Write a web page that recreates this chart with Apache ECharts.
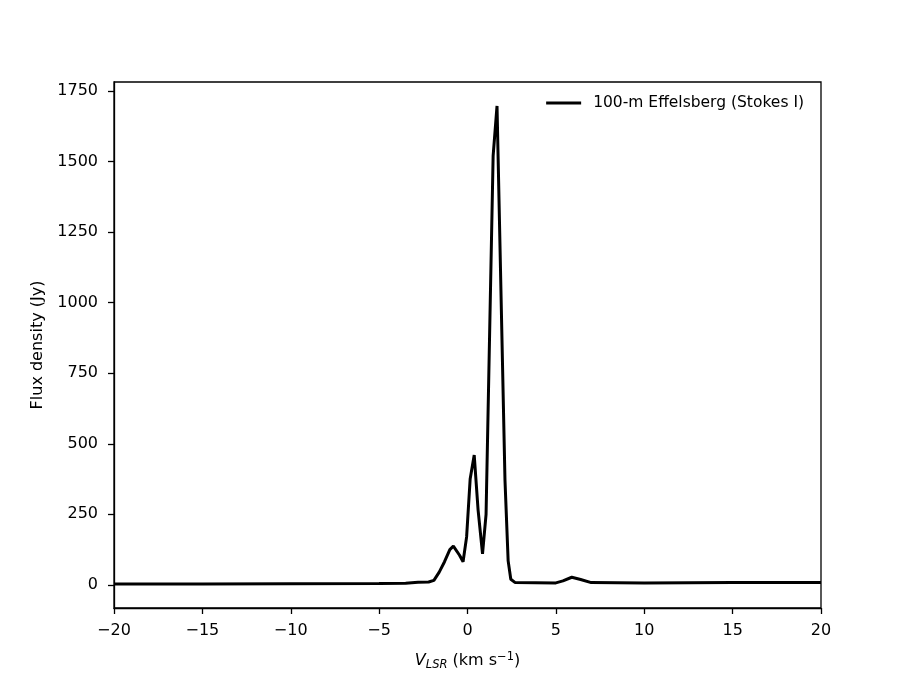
<!DOCTYPE html>
<html>
<head>
<meta charset="utf-8">
<script src="https://cdn.jsdelivr.net/npm/echarts@6/dist/echarts.min.js"></script>
<style>
  html, body { margin: 0; padding: 0; background: #fff; }
  #main { width: 913px; height: 685px; }
</style>
</head>
<body>
<div id="main"></div>
<script>
// spectrum (km/s, Jy)
var velocity = [-20, -15, -10, -5, -3.5, -2.8, -2.2, -1.9, -1.6, -1.3, -1.0, -0.8, -0.7, -0.45, -0.25,
  -0.05, 0.15, 0.38, 0.6, 0.85, 1.05, 1.45, 1.67, 2.12, 2.3, 2.45, 2.7, 5.0, 5.4, 5.9, 6.4, 7.0, 10, 15, 20];
var flux = [3, 3, 4, 5, 6, 9, 10, 16, 45, 82, 125, 137, 138, 105, 82,
  170, 375, 460, 265, 110, 250, 1520, 1697, 372, 85, 20, 8, 7, 14, 27, 19, 8, 7, 8, 8];
var xTicks = [-20, -15, -10, -5, 0, 5, 10, 15, 20];
var yTicks = [0, 250, 500, 750, 1000, 1250, 1500, 1750];
var seriesName = '100-m Effelsberg (Stokes I)';

var font = 'DejaVu Sans';
var chart = echarts.init(document.getElementById('main'));

var points = velocity.map(function (v, i) { return [v, flux[i]]; });

function minus(v) { return String(v).replace('-', '\u2212'); }

var option = {
  animation: false,
  backgroundColor: '#fff',
  textStyle: { fontFamily: font },
  grid: { left: 114, right: 92, top: 82, bottom: 77, show: true, borderColor: '#000', borderWidth: 1.3 },
  legend: {
    data: [seriesName],
    right: 104,
    top: 90,
    icon: 'rect',
    itemWidth: 35,
    itemHeight: 3,
    textStyle: { fontFamily: font, fontSize: 15.5, color: '#000', padding: [0, 0, 0, 7] }
  },
  xAxis: {
    type: 'value',
    min: -20,
    max: 20,
    interval: 5,
    name: '{v|V}{s|LSR} (km s{p|\u22121})',
    nameLocation: 'middle',
    nameGap: 43,
    nameTextStyle: {
      fontFamily: font, fontSize: 16, color: '#000',
      rich: {
        v: { fontFamily: font, fontSize: 16, fontStyle: 'italic', color: '#000' },
        s: { fontFamily: font, fontSize: 11.5, fontStyle: 'italic', color: '#000', verticalAlign: 'bottom', padding: [8, 0, 0, 0] },
        p: { fontFamily: font, fontSize: 11.5, color: '#000', verticalAlign: 'top', padding: [0, 0, 7, 0] }
      }
    },
    axisLine: { onZero: false, lineStyle: { color: '#000', width: 1.3 } },
    axisTick: { inside: false, length: 6, lineStyle: { color: '#000', width: 1.3 }, customValues: xTicks },
    axisLabel: { fontFamily: font, fontSize: 16, color: '#000', margin: 15, customValues: xTicks, formatter: minus },
    splitLine: { show: false }
  },
  yAxis: {
    type: 'value',
    min: -82,
    max: 1782,
    name: 'Flux density (Jy)',
    nameLocation: 'middle',
    nameGap: 68,
    nameTextStyle: { fontFamily: font, fontSize: 16, color: '#000' },
    axisLine: { onZero: false, lineStyle: { color: '#000', width: 1.3 } },
    axisTick: { inside: false, length: 6, lineStyle: { color: '#000', width: 1.3 }, customValues: yTicks },
    axisLabel: { fontFamily: font, fontSize: 16, color: '#000', margin: 16, customValues: yTicks, formatter: minus },
    splitLine: { show: false }
  },
  series: [{
    name: seriesName,
    type: 'line',
    data: points,
    symbol: 'none',
    smooth: false,
    lineStyle: { color: '#000', width: 3 },
    itemStyle: { color: '#000' }
  }]
};

chart.setOption(option);
</script>
</body>
</html>
